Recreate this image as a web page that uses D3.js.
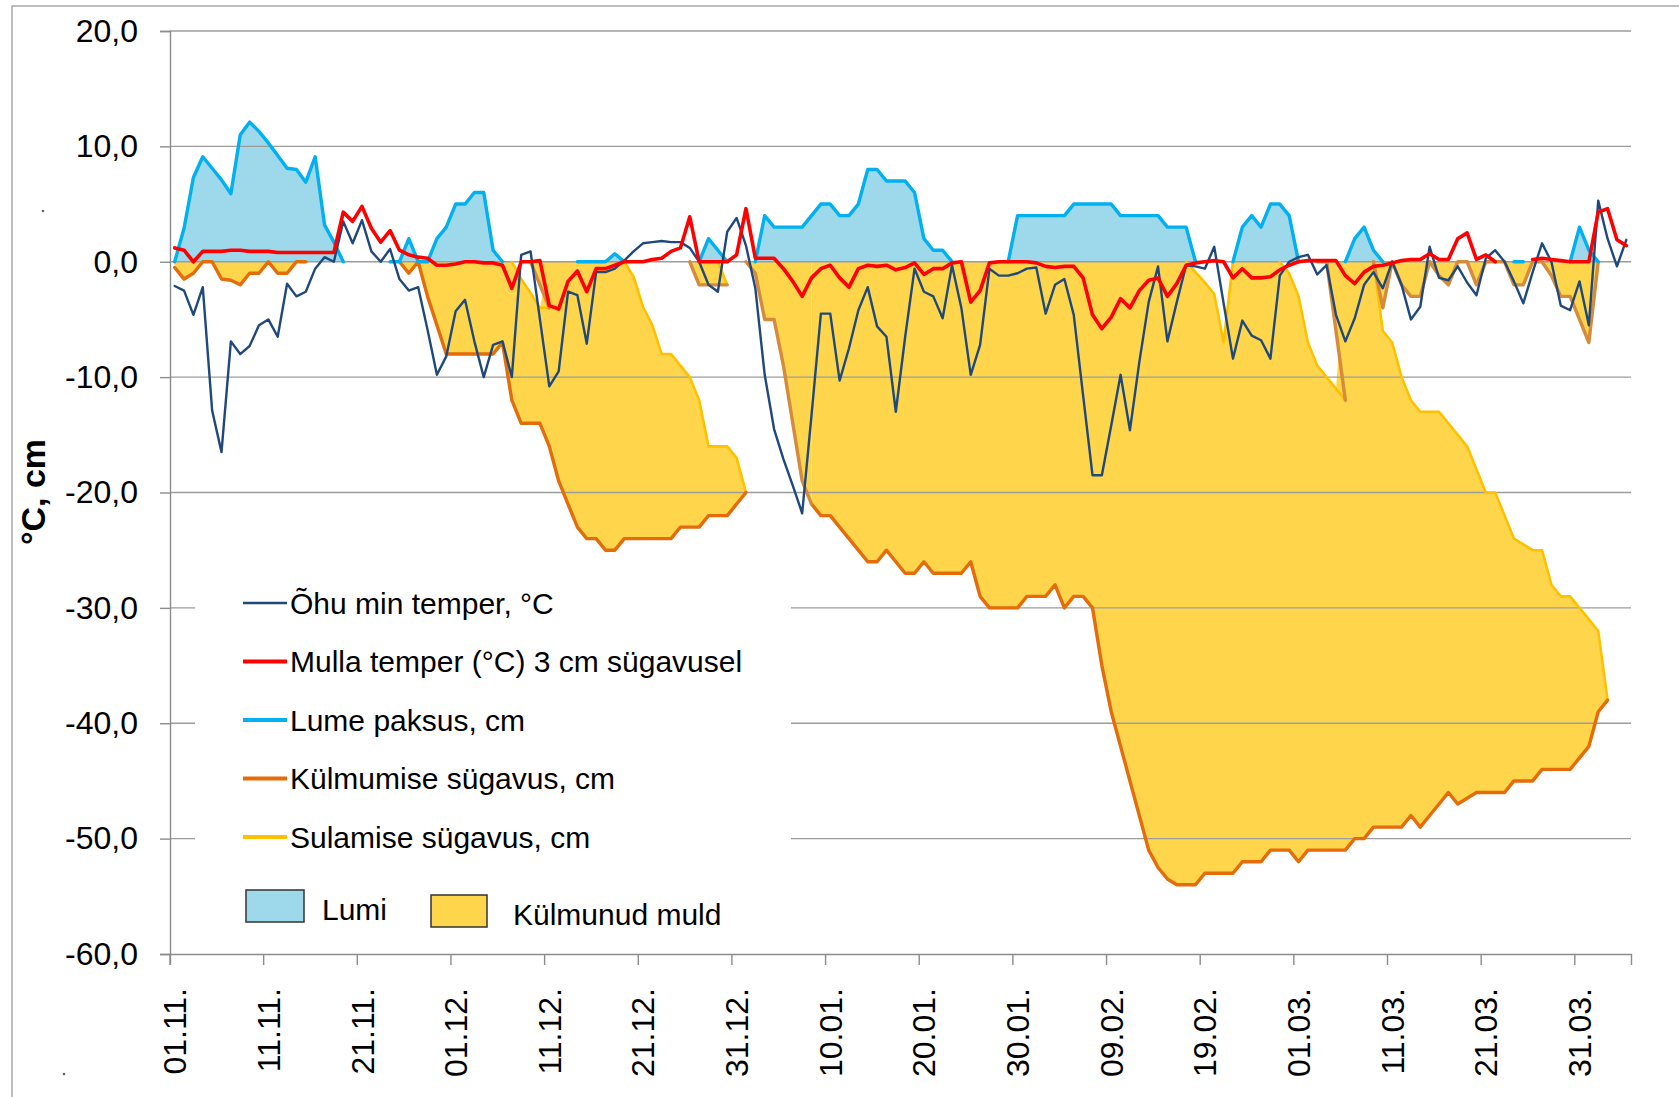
<!DOCTYPE html>
<html><head><meta charset="utf-8">
<script src="https://cdn.jsdelivr.net/npm/d3@7"></script>
<style>
body{margin:0;background:#fff}
svg{display:block}
text{font-family:"Liberation Sans",Arial,sans-serif;fill:#000}
</style>
</head><body>
<svg id="c" width="1679" height="1097"></svg>
<script>
// ---------- DATA ----------
const tickLabels = ["01.11.","11.11.","21.11.","01.12.","11.12.","21.12.","31.12.","10.01.","20.01.","30.01.","09.02.","19.02.","01.03.","11.03.","21.03.","31.03."];
const yTicks = [-60,-50,-40,-30,-20,-10,0,10,20];

// Õhu min temper, °C (daily, 01.11. - 05.04.)
const ohuMin = [
 -2.1,-2.5,-4.6,-2.2,-12.9,-16.5,-6.9,-8.0,-7.3,-5.5,
 -5.0,-6.5,-1.9,-3.0,-2.6,-0.6,0.4,0.0,3.5,1.6,
 3.6,0.9,0.0,1.1,-1.5,-2.5,-2.2,-5.9,-9.8,-8.2,
 -4.3,-3.3,-6.9,-10.0,-7.2,-6.9,-10.0,0.6,0.9,-5.0,
 -10.8,-9.5,-2.6,-2.9,-7.1,-0.9,-0.9,-0.6,0.1,0.9,
 1.6,1.7,1.8,1.7,1.7,1.2,0.0,-2.0,-2.6,2.6,
 3.8,1.4,-2.3,-9.8,-14.5,-17.1,-19.4,-21.8,-13.3,-4.5,
 -4.5,-10.3,-7.5,-4.2,-2.2,-5.6,-6.5,-13.0,-6.5,-0.6,
 -2.6,-3.0,-4.9,-0.3,-4.0,-9.8,-7.2,-0.6,-1.2,-1.2,
 -1.0,-0.6,-0.5,-4.5,-2.0,-1.5,-4.6,-11.6,-18.5,-18.5,
 -14.2,-9.8,-14.6,-8.7,-3.5,-0.4,-6.9,-3.5,-0.3,-0.4,
 -0.6,1.3,-3.6,-8.4,-5.1,-6.4,-6.8,-8.4,-1.2,0.0,
 0.4,0.6,-1.1,-0.3,-4.6,-6.9,-4.9,-2.0,-0.9,-2.3,
 0.0,-2.0,-5.0,-3.9,1.3,-1.4,-1.6,-0.4,-1.8,-2.9,
 0.3,1.0,0.0,-1.7,-3.6,-0.9,1.6,0.0,-3.8,-4.2,
 -1.7,-5.5,5.3,2.0,-0.4,1.9];

// Mulla temper (°C) 3 cm sügavusel
const mullaTemp = [
 1.2,1.0,0.0,0.9,0.9,0.9,1.0,1.0,0.9,0.9,
 0.9,0.8,0.8,0.8,0.8,0.8,0.8,0.8,4.3,3.5,
 4.8,2.9,1.7,2.7,1.0,0.6,0.4,0.3,-0.3,-0.3,
 -0.2,0.0,0.0,-0.1,-0.1,-0.3,-2.3,0.0,0.0,0.1,
 -3.8,-4.1,-1.7,-0.8,-2.6,-0.6,-0.6,-0.3,0.0,0.0,
 0.0,0.2,0.3,0.9,1.2,3.9,0.0,0.0,0.0,0.0,
 0.6,4.6,0.3,0.3,0.3,-0.6,-1.7,-3.0,-1.4,-0.6,
 -0.3,-1.4,-2.2,-0.6,-0.3,-0.4,-0.3,-0.7,-0.5,-0.1,
 -1.1,-0.6,-0.6,-0.1,0.0,-3.5,-2.5,-0.1,0.0,0.0,
 0.0,0.0,-0.1,-0.4,-0.5,-0.4,-0.4,-1.4,-4.6,-5.8,
 -4.8,-3.2,-4.0,-2.5,-1.6,-1.4,-3.0,-1.9,-0.3,-0.1,
 0.0,0.1,0.0,-1.4,-0.6,-1.4,-1.4,-1.3,-0.7,-0.3,
 0.0,0.1,0.1,0.1,0.1,-1.2,-1.9,-0.9,-0.4,-0.3,
 -0.1,0.1,0.2,0.2,0.7,0.2,0.2,2.0,2.5,0.2,
 0.6,0.0,null,null,null,0.2,0.3,0.2,0.1,0.0,
 0.0,0.0,4.3,4.6,1.9,1.4];

// Lume paksus, cm
const lumePaksus = [
 0,2.9,7.3,9.1,8.1,7.1,5.9,11.0,12.1,11.3,
 10.3,9.2,8.1,8.0,6.9,9.1,3.2,1.7,0,null,
 null,null,null,0,0,2,0,0,2,3,
 5,5,6,6,1,0,null,null,null,null,
 null,null,null,0,0,0,0,0.7,0,null,
 null,null,null,null,null,null,0,2,1,0,
 null,null,0,4,3,3,3,3,4,5,
 5,4,4,5,8,8,7,7,7,6,
 2,1,1,0,null,null,null,null,null,0,
 4,4,4,4,4,4,5,5,5,5,
 5,4,4,4,4,4,3,3,3,0,
 null,null,null,0,3,4,3,5,5,4,
 0,null,null,null,null,0,2,3,1,0,
 null,null,null,null,null,null,null,null,null,null,
 null,null,null,0,0,null,null,null,null,0,
 3,1,0,null,null,null];

// Külmumise sügavus, cm
const kylmumine = [
 -0.5,-1.5,-1.0,0,0,-1.5,-1.6,-2.0,-1.0,-1.0,
 0,-1.0,-1.0,0,0,null,null,null,null,null,
 null,null,null,null,0,-1,0,-3,-5.5,-8,
 -8,-8,-8,-8,-8,-7,-12,-14,-14,-14,
 -16,-19,-21,-23,-24,-24,-25,-25,-24,-24,
 -24,-24,-24,-24,-23,-23,-23,-22,-22,-22,
 -21,-20,null,null,null,null,null,null,-21,-22,
 -22,-23,-24,-25,-26,-26,-25,-26,-27,-27,
 -26,-27,-27,-27,-27,-26,-29,-30,-30,-30,
 -30,-29,-29,-29,-28,-30,-29,-29,-30,-35,
 -39,-42,-45,-48,-51,-52.5,-53.5,-54,-54,-54,
 -53,-53,-53,-53,-52,-52,-52,-51,-51,-51,
 -52,-51,-51,-51,-51,-51,-50,-50,-49,-49,
 -49,-49,-48,-49,-48,-47,-46,-47,-46.5,-46,
 -46,-46,-46,-45,-45,-45,-44,-44,-44,-44,
 -43,-42,-39,-38,null,null];

// Külmumise sügavus (pindmised kihid), cm  — runs: [start day index, values]
const kylmumine2Runs = [
 [38,[0,-2,-4]],
 [55,[0,-2,-2,-2,-2]],
 [61,[0,-1,-5,-5,-9,-14,-19,-21]],
 [122,[0,0,-6,-12]],
 [128,[0,-4,0,-2,-3,-3,0,-1.2,-2,0,0,-2,0,0,0,-2,-2,0,0,-1.2,-3,-3,-5,-7,0]]
];
// Sulamise sügavus, cm
const sulamineRuns = [
 [36,[0,-1.5,-2.7,-4,-4]],
 [48,[0,-1.3,-3.9,-5.5,-8,-8,-9,-10,-12,-16,-16,-16,-17,-20]],
 [108,[0,-0.9,-1.8,-2.8,-7,0]],
 [118,[0,-1,-3,-7,-9,-10,-11,-12]],
 [128,[0,-6,-7,-10,-12,-13,-13,-13,-14,-15,-16,-18,-20,-20,-22,-24,-24.5,-25,-25,-28,-29,-29,-30,-31,-32,-38]]
];
const sulamine2Runs = [[58,[0,-2]]];

const legendNames = ["Õhu min temper, °C","Mulla temper (°C) 3 cm sügavusel","Lume paksus, cm","Külmumise sügavus, cm","Sulamise sügavus, cm"];
const areaNames = ["Lumi","Külmunud muld"];

// ---------- BUILD ----------
const days = d3.timeDay.range(new Date(2010,10,1), new Date(2011,3,6));
const N = days.length;
function fromRuns(runs){
  const a = new Array(N).fill(null);
  runs.forEach(([s,vals]) => vals.forEach((v,k)=>{ a[s+k]=v; }));
  return a;
}
const kylmumine2 = fromRuns(kylmumine2Runs);
const sulamine = fromRuns(sulamineRuns);
const sulamine2 = fromRuns(sulamine2Runs);

const C = {
  ohu:'#1F497D', mulla:'#FF0000', lumi:'#00B0F0', kylm:'#E46C0A', kylm2:'#D68A3C',
  sul:'#FFC000', lumiFill:'#9DD9EA', muldFill:'#FFD64B', grid:'#9c9c9c', axis:'#8c8c8c'
};

const svg = d3.select('#c');
const x = d3.scaleBand().domain(d3.range(N)).range([170,1631]);
const xc = i => x(i) + x.bandwidth()/2;
const y = d3.scaleLinear().domain([-60,20]).range([954,31]);

// outer chart border
svg.append('rect').attr('x',12).attr('y',6).attr('width',1700).attr('height',1200)
  .attr('fill','none').attr('stroke','#a8a8a8').attr('stroke-width',1.5);
svg.append('circle').attr('cx',43).attr('cy',211).attr('r',1.3).attr('fill','#666');
svg.append('circle').attr('cx',64).attr('cy',1074).attr('r',1.3).attr('fill','#666');

const idx = d3.range(N);

// snow fill
svg.append('path').datum(idx)
  .attr('d', d3.area().defined(i=>lumePaksus[i]!=null).x(xc).y0(y(0)).y1(i=>y(lumePaksus[i])))
  .attr('fill', C.lumiFill);

// frozen soil fills
const topMain = i => (sulamine[i]!=null && !(kylmumine2[i]!=null && kylmumine2[i] <= sulamine[i])) ? sulamine[i] : 0;
svg.append('path').datum(idx)
  .attr('d', d3.area().defined(i=>kylmumine[i]!=null).x(xc).y0(i=>y(kylmumine[i])).y1(i=>y(topMain(i))))
  .attr('fill', C.muldFill);
svg.append('path').datum(idx)
  .attr('d', d3.area().defined(i=>kylmumine2[i]!=null).x(xc).y0(i=>y(kylmumine2[i])).y1(i=>y(sulamine2[i]!=null?sulamine2[i]:0)))
  .attr('fill', C.muldFill);

// gridlines
svg.append('g').selectAll('line').data(yTicks.filter(t=>t>-60)).join('line')
  .attr('x1',170).attr('x2',1631).attr('y1',d=>y(d)).attr('y2',d=>y(d))
  .attr('stroke',C.grid).attr('stroke-width',1.4);

// lines
function drawLine(arr,color,w){
  svg.append('path').datum(idx)
    .attr('d', d3.line().defined(i=>arr[i]!=null).x(xc).y(i=>y(arr[i])))
    .attr('fill','none').attr('stroke',color).attr('stroke-width',w)
    .attr('stroke-linejoin','round').attr('stroke-linecap','round');
}
drawLine(sulamine, C.sul, 2.6);
drawLine(sulamine2, C.sul, 2.6);
drawLine(kylmumine, C.kylm, 3.4);
drawLine(kylmumine2, C.kylm2, 3.4);
drawLine(lumePaksus, C.lumi, 3.4);
drawLine(ohuMin, C.ohu, 2.4);
drawLine(mullaTemp, C.mulla, 3.6);

// legend
const lg = svg.append('g');
lg.append('rect').attr('x',195).attr('y',560).attr('width',596).attr('height',385).attr('fill','#fff');
const lineColors = [C.ohu,C.mulla,C.lumi,C.kylm,C.sul];
const lineW = [2.6,4,4,4,4];
legendNames.forEach((n,i)=>{
  const yy = 603 + i*58.5;
  lg.append('line').attr('x1',243).attr('x2',287).attr('y1',yy).attr('y2',yy)
    .attr('stroke',lineColors[i]).attr('stroke-width',lineW[i]);
  lg.append('text').attr('x',290).attr('y',yy+10.5).attr('font-size',30).text(n);
});
lg.append('rect').attr('x',246).attr('y',890).attr('width',58).attr('height',32)
  .attr('fill',C.lumiFill).attr('stroke','#333').attr('stroke-width',1.5);
lg.append('text').attr('x',322).attr('y',920).attr('font-size',30).text(areaNames[0]);
lg.append('rect').attr('x',431).attr('y',895).attr('width',56).attr('height',32)
  .attr('fill',C.muldFill).attr('stroke','#333').attr('stroke-width',1.5);
lg.append('text').attr('x',513).attr('y',925).attr('font-size',30).text(areaNames[1]);

// y axis
const ya = svg.append('g').attr('transform','translate(170,0)')
  .call(d3.axisLeft(y).tickValues(yTicks).tickSize(10).tickPadding(22)
    .tickFormat(d=>d.toFixed(1).replace('.',',')));
ya.select('.domain').attr('stroke',C.axis).attr('stroke-width',1.4);
ya.selectAll('.tick line').attr('stroke',C.axis).attr('stroke-width',1.4);
ya.selectAll('.tick text').attr('font-size',32).attr('fill','#000')
  .style('font-family','"Liberation Sans",Arial,sans-serif');

// x axis
const bw = x.bandwidth();
const xa = svg.append('g').attr('transform','translate(0,954)')
  .call(d3.axisBottom(x).tickValues(d3.range(0,N,10)).tickSize(11)
    .tickFormat((d,i)=>tickLabels[i]));
xa.select('.domain').attr('stroke',C.axis).attr('stroke-width',1.4);
xa.selectAll('.tick line').attr('x1',-bw/2).attr('x2',-bw/2).attr('stroke',C.axis).attr('stroke-width',1.4);
xa.selectAll('.tick text').attr('y',null).attr('dy','0.36em').attr('text-anchor','end')
  .attr('transform','translate(0,34) rotate(-90)').attr('font-size',32).attr('fill','#000')
  .style('font-family','"Liberation Sans",Arial,sans-serif');

// y title
svg.append('text').attr('transform','translate(45,492) rotate(-90)').attr('text-anchor','middle')
  .attr('font-size',34).attr('font-weight','bold').text('°C, cm');
</script>
</body></html>
